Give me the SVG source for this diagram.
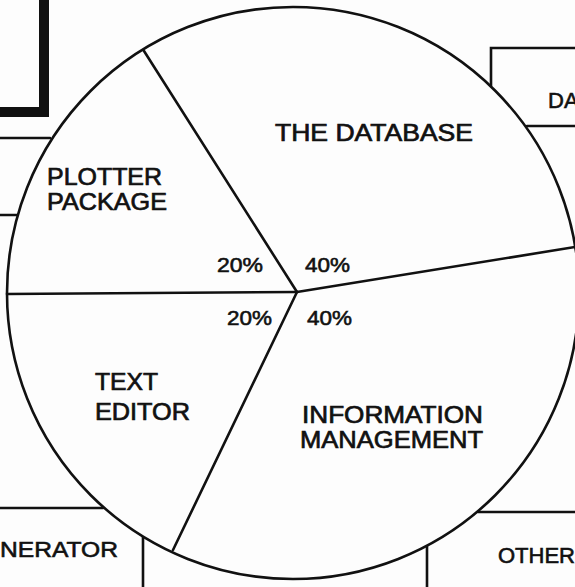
<svg xmlns="http://www.w3.org/2000/svg" width="575" height="587" viewBox="0 0 575 587">
  <style>
    .ln { fill: none; stroke: #111; stroke-width: 2.6; stroke-linecap: round; }
    .thick { fill: none; stroke: #111; stroke-width: 10; }
    .lbl { font-family: "Liberation Sans", Arial, sans-serif; fill: #111; stroke: #111; stroke-width: 0.7; font-size: 24px; }
    .pct { font-family: "Liberation Sans", Arial, sans-serif; fill: #111; stroke: #111; stroke-width: 0.6; font-size: 21px; }
    .edge { font-family: "Liberation Sans", Arial, sans-serif; fill: #111; stroke: #111; stroke-width: 0.6; font-size: 22px; }
  </style>
  <rect width="575" height="587" fill="#fdfdfd"/>

  <g id="background-boxes">
    <g id="box-top-left">
      <path class="thick" d="M44 0 V112 H0"/>
    </g>
    <g id="box-left">
      <path class="ln" d="M0 138 H50 M0 215 H17"/>
    </g>
    <g id="box-top-right">
      <path class="ln" d="M491 86 V48 H575 M527 126 H575"/>
      <text class="edge" x="548" y="108">DA</text>
    </g>
    <g id="box-bottom-left">
      <path class="ln" d="M0 508 H103 M143 536 V587"/>
      <text class="edge" x="0" y="557" textLength="118" lengthAdjust="spacingAndGlyphs">NERATOR</text>
    </g>
    <g id="box-bottom-right">
      <path class="ln" d="M478 512 H575 M427 545 V587"/>
      <text class="edge" x="498" y="563">OTHER</text>
    </g>
  </g>

  <g id="pie">
    <circle cx="293" cy="293" r="286" fill="#fdfdfd" stroke="#111" stroke-width="2.6"/>
  </g>

  <g id="connectors">
    <path class="ln" d="M297 292 L7 294"/>
    <path class="ln" d="M297 292 L144 51"/>
    <path class="ln" d="M297 292 L575 247"/>
    <path class="ln" d="M297 292 L173 550"/>
  </g>

  <g id="slice-database">
    <text class="lbl" x="275" y="141" font-size="25" textLength="198" lengthAdjust="spacingAndGlyphs">THE DATABASE</text>
    <text class="pct" x="305" y="272" textLength="45" lengthAdjust="spacingAndGlyphs">40%</text>
  </g>
  <g id="slice-plotter">
    <text class="lbl" x="47" y="185" font-size="23" textLength="115" lengthAdjust="spacingAndGlyphs">PLOTTER</text>
    <text class="lbl" x="47" y="210" font-size="23" textLength="120" lengthAdjust="spacingAndGlyphs">PACKAGE</text>
    <text class="pct" x="217" y="272" textLength="46" lengthAdjust="spacingAndGlyphs">20%</text>
  </g>
  <g id="slice-text-editor">
    <text class="lbl" x="95" y="390" textLength="63" lengthAdjust="spacingAndGlyphs">TEXT</text>
    <text class="lbl" x="95" y="420" textLength="95" lengthAdjust="spacingAndGlyphs">EDITOR</text>
    <text class="pct" x="227" y="325" textLength="45" lengthAdjust="spacingAndGlyphs">20%</text>
  </g>
  <g id="slice-information-management">
    <text class="lbl" x="302" y="423" textLength="181" lengthAdjust="spacingAndGlyphs">INFORMATION</text>
    <text class="lbl" x="300" y="448" textLength="183" lengthAdjust="spacingAndGlyphs">MANAGEMENT</text>
    <text class="pct" x="307" y="325" textLength="45" lengthAdjust="spacingAndGlyphs">40%</text>
  </g>
</svg>
